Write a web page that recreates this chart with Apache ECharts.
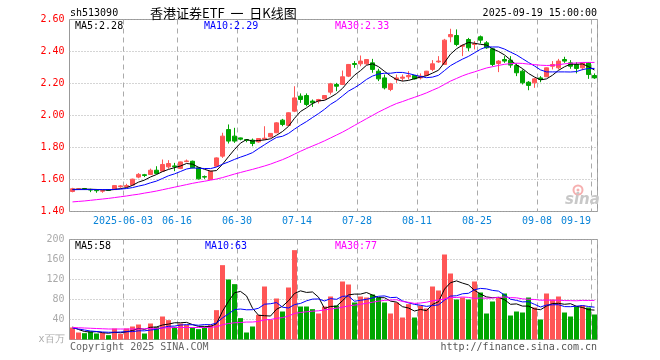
<!DOCTYPE html>
<html><head><meta charset="utf-8">
<script src="https://cdn.jsdelivr.net/npm/echarts/dist/echarts.min.js"></script>
<style>html,body{margin:0;padding:0;background:#fff}#c{width:660px;height:360px}</style>
</head><body><div id="c"></div>
<script>
const dates = [
'2025-05-20','2025-05-21','2025-05-22','2025-05-23','2025-05-26','2025-05-27','2025-05-28','2025-05-29','2025-05-30',
'2025-06-03','2025-06-04','2025-06-05','2025-06-06','2025-06-09','2025-06-10','2025-06-11','2025-06-12','2025-06-13',
'2025-06-16','2025-06-17','2025-06-18','2025-06-19','2025-06-20','2025-06-23','2025-06-24','2025-06-25','2025-06-26','2025-06-27',
'2025-06-30','2025-07-01','2025-07-02','2025-07-03','2025-07-04','2025-07-07','2025-07-08','2025-07-09','2025-07-10','2025-07-11',
'2025-07-14','2025-07-15','2025-07-16','2025-07-17','2025-07-18','2025-07-21','2025-07-22','2025-07-23','2025-07-24','2025-07-25',
'2025-07-28','2025-07-29','2025-07-30','2025-07-31','2025-08-01','2025-08-04','2025-08-05','2025-08-06','2025-08-07','2025-08-08',
'2025-08-11','2025-08-12','2025-08-13','2025-08-14','2025-08-15','2025-08-18','2025-08-19','2025-08-20','2025-08-21','2025-08-22',
'2025-08-25','2025-08-26','2025-08-27','2025-08-28','2025-08-29','2025-09-01','2025-09-02','2025-09-03','2025-09-04','2025-09-05',
'2025-09-08','2025-09-09','2025-09-10','2025-09-11','2025-09-12','2025-09-15','2025-09-16','2025-09-17','2025-09-18','2025-09-19'];

const openP = [1.525,1.538,1.543,1.538,1.533,1.527,1.537,1.537,1.555,1.555, 1.565,1.615,1.630,1.631,1.658,1.652,1.679,1.685,1.669,1.712, 1.714,1.673,1.618,1.600,1.683,1.746,1.912,1.871,1.860,1.850, 1.846,1.835,1.852,1.867,1.892,1.971,1.938,2.027,2.121,2.125, 2.090,2.090,2.104,2.146,2.194,2.194,2.246,2.325,2.323,2.323, 2.329,2.277,2.235,2.163,2.225,2.233,2.242,2.250,2.235,2.250, 2.288,2.335,2.319,2.492,2.500,2.433,2.475,2.444,2.492,2.454, 2.417,2.325,2.350,2.346,2.313,2.277,2.208,2.204,2.235,2.242, 2.308,2.298,2.350,2.329,2.319,2.298,2.329,2.250];
const closeP = [1.542,1.542,1.541,1.534,1.530,1.530,1.532,1.562,1.560,1.562, 1.602,1.632,1.625,1.658,1.638,1.694,1.700,1.680,1.710,1.716, 1.673,1.604,1.615,1.652,1.735,1.871,1.840,1.840,1.852,1.845, 1.825,1.856,1.858,1.888,1.954,1.944,2.017,2.110,2.100,2.069, 2.079,2.100,2.125,2.198,2.183,2.242,2.319,2.319,2.340,2.350, 2.288,2.229,2.173,2.198,2.235,2.240,2.250,2.229,2.246,2.277, 2.323,2.340,2.471,2.506,2.444,2.438,2.423,2.448,2.471,2.423, 2.319,2.340,2.340,2.315,2.267,2.204,2.188,2.229,2.225,2.298, 2.319,2.340,2.340,2.308,2.294,2.329,2.256,2.235];
const lowP = [1.520,1.535,1.536,1.521,1.517,1.517,1.530,1.535,1.548,1.552, 1.562,1.608,1.615,1.628,1.633,1.650,1.667,1.652,1.665,1.708, 1.670,1.600,1.604,1.598,1.680,1.735,1.825,1.829,1.845,1.833, 1.808,1.830,1.850,1.862,1.890,1.933,1.935,2.021,2.079,2.058, 2.054,2.075,2.100,2.131,2.152,2.190,2.240,2.298,2.308,2.318, 2.267,2.215,2.163,2.152,2.204,2.215,2.225,2.225,2.225,2.248, 2.277,2.329,2.319,2.458,2.433,2.371,2.402,2.413,2.450,2.417, 2.308,2.271,2.329,2.298,2.246,2.194,2.158,2.173,2.208,2.240, 2.288,2.288,2.329,2.292,2.263,2.283,2.229,2.229];
const highP = [1.548,1.545,1.547,1.542,1.535,1.535,1.540,1.563,1.565,1.573, 1.605,1.640,1.635,1.668,1.683,1.725,1.721,1.704,1.712,1.725, 1.718,1.675,1.625,1.655,1.738,1.892,1.944,1.923,1.862,1.850, 1.856,1.858,1.933,1.890,1.958,1.979,2.020,2.183,2.138,2.138, 2.100,2.104,2.128,2.204,2.204,2.281,2.322,2.340,2.375,2.353, 2.354,2.292,2.256,2.204,2.256,2.256,2.277,2.252,2.263,2.279, 2.346,2.371,2.479,2.542,2.538,2.444,2.485,2.465,2.500,2.465, 2.423,2.346,2.371,2.371,2.325,2.288,2.215,2.235,2.246,2.300, 2.340,2.354,2.367,2.346,2.333,2.329,2.333,2.263];
const volume = [24,14,12.7,16,12,13.3,8.7,22,11.3,22, 26,30,12,32,25.3,46,38.7,25.3,32,29.3, 24,20.7,25.3,29.3,58.7,148.7,120,110.7,42.7,14, 26,49.3,106,39.3,82,56,104,178.7,66,66, 60.7,52,66,86,68,116,110,74,86,84, 90,84,74,52,74,44,70.7,44,68,62, 106,98,170,132,80,84,80,116,94,52, 76,84,92,48,56,54,84,64,40,92, 80,86,54,46,66,68,64,50];

// moving-average values at the start of the window (prior history not shown)
const ma5Head = [1.538,1.539,1.540,1.539];
const ma10Head = [1.536,1.537,1.537,1.537,1.537,1.537,1.537,1.538,1.540];
const ma30Head = [1.460,1.463,1.466,1.470,1.474,1.478,1.482,1.487,1.492,1.497,1.503,1.508,1.515,1.521,1.528,1.536,1.544,1.552,1.560,1.568,1.576,1.583,1.589,1.596,1.603,1.612,1.623,1.634,1.644];
const vma5Head = [25,20,16,15];
const vma10Head = [23,21,19,17,16,15,14.5,14.5,15];
const vma30Head = [24,23.5,23,22.5,22,21.5,21,21,21,21,21,21,21.5,22,22.5,23,23.5,24,24,24,24,24,24,24.5,25.5,29.5,32,33.5,34];

const labelIdx = [9,18,28,38,48,58,68,78,87];
const priceTicks = {min:1.4, max:2.6, step:0.2};
const volTicks = {min:0, max:200, step:40};
const titleText = '香港证券ETF  一  日K线图';
const codeText = 'sh513090';
const timeText = '2025-09-19 15:00:00';
const priceLegend = ['MA5:2.28','MA10:2.29','MA30:2.33'];
const volLegend = ['MA5:58','MA10:63','MA30:77'];

const RED = '#ff5656', GREEN = '#00a600';
const MONO = '"DejaVu Sans Mono", monospace';

function movingAvg(vals, n, head) {
  return vals.map((v, i) => {
    if (i < n - 1) return head[i];
    let s = 0; for (let k = i - n + 1; k <= i; k++) s += vals[k];
    return +(s / n).toFixed(4);
  });
}

const kData = openP.map((o, i) => [o, closeP[i], lowP[i], highP[i]]);
const volData = volume.map((v, i) => ({value: v, itemStyle: {color: closeP[i] >= openP[i] ? RED : GREEN, opacity: 1}}));

const chart = echarts.init(document.getElementById('c'), null, {renderer: 'canvas'});

const splitX = {show: true, interval: (i) => labelIdx.indexOf(i) >= 0, lineStyle: {color: '#aaa', type: [5, 4], width: 1}};
const splitY = {show: true, lineStyle: {color: '#aaa', type: [1, 2], width: 1}};

function txt(x, y, text, color, align, font) {
  return {type: 'text', silent: true, z: 100, style: {x: x, y: y, text: text, fill: color, font: font || ('10px ' + MONO),
    textAlign: align || 'left', align: align || 'left', textVerticalAlign: 'middle', verticalAlign: 'middle'}};
}

chart.setOption({
  animation: false,
  backgroundColor: '#fff',
  grid: [
    {left: 69.5, top: 19.5, width: 528, height: 192, show: true, borderColor: '#999', borderWidth: 1, backgroundColor: 'transparent'},
    {left: 69.5, top: 239.5, width: 528, height: 100, show: true, borderColor: '#999', borderWidth: 1, backgroundColor: 'transparent'}
  ],
  xAxis: [
    {type: 'category', gridIndex: 0, data: dates, boundaryGap: true,
      axisLine: {show: false}, axisTick: {show: false}, splitLine: splitX,
      axisLabel: {show: true, interval: (i) => labelIdx.indexOf(i) >= 0, margin: 5,
        color: '#0a84d8', fontFamily: MONO, fontSize: 10,
        formatter: (v, i) => {
          const s = (i === labelIdx[0]) ? v : v.slice(5);
          return i === labelIdx[labelIdx.length - 1] ? '{e|' + s + '}' : '{n|' + s + '}';
        },
        rich: {
          n: {color: '#0a84d8', fontFamily: MONO, fontSize: 10, padding: [0, 7, 0, 0]},
          e: {color: '#0a84d8', fontFamily: MONO, fontSize: 10, padding: [0, 37, 0, 0]}
        }
      }},
    {type: 'category', gridIndex: 1, data: dates, boundaryGap: true,
      axisLine: {show: false}, axisTick: {show: false}, axisLabel: {show: false}, splitLine: splitX}
  ],
  yAxis: [
    {type: 'value', gridIndex: 0, min: priceTicks.min, max: priceTicks.max, interval: priceTicks.step, scale: true,
      axisLine: {show: false}, axisTick: {show: false}, splitLine: splitY,
      axisLabel: {color: '#f00', fontFamily: MONO, fontSize: 10, margin: 5, formatter: (v) => v.toFixed(2)}},
    {type: 'value', gridIndex: 1, min: volTicks.min, max: volTicks.max, interval: volTicks.step,
      axisLine: {show: false}, axisTick: {show: false}, splitLine: splitY,
      axisLabel: {color: '#aaa', fontFamily: MONO, fontSize: 10, margin: 5,
        formatter: (v) => v === 0 ? 'x百万' : String(v)}}
  ],
  series: [
    {type: 'candlestick', xAxisIndex: 0, yAxisIndex: 0, data: kData, barWidth: 5, z: 2,
      itemStyle: {color: RED, color0: GREEN, borderColor: RED, borderColor0: GREEN, borderWidth: 1}},
    {type: 'line', xAxisIndex: 0, yAxisIndex: 0, data: movingAvg(closeP, 5, ma5Head), showSymbol: false, z: 3,
      lineStyle: {color: '#000', width: 1}},
    {type: 'line', xAxisIndex: 0, yAxisIndex: 0, data: movingAvg(closeP, 10, ma10Head), showSymbol: false, z: 3,
      lineStyle: {color: '#0000ff', width: 1}},
    {type: 'line', xAxisIndex: 0, yAxisIndex: 0, data: movingAvg(closeP, 30, ma30Head), showSymbol: false, z: 3,
      lineStyle: {color: '#ff00ff', width: 1}},
    {type: 'bar', xAxisIndex: 1, yAxisIndex: 1, data: volData, barWidth: 5, z: 2, emphasis: {disabled: true},
      itemStyle: {opacity: 1, borderWidth: 0}},
    {type: 'line', xAxisIndex: 1, yAxisIndex: 1, data: movingAvg(volume, 5, vma5Head), showSymbol: false, z: 3,
      lineStyle: {color: '#000', width: 1}},
    {type: 'line', xAxisIndex: 1, yAxisIndex: 1, data: movingAvg(volume, 10, vma10Head), showSymbol: false, z: 3,
      lineStyle: {color: '#0000ff', width: 1}},
    {type: 'line', xAxisIndex: 1, yAxisIndex: 1, data: movingAvg(volume, 30, vma30Head), showSymbol: false, z: 3,
      lineStyle: {color: '#ff00ff', width: 1}}
  ],
  graphic: [
    txt(70, 13, codeText, '#000'),
    txt(150, 13, titleText, '#000', 'left', '13px "Noto Sans CJK SC"'),
    txt(597, 13, timeText, '#000', 'right'),
    txt(75, 26, priceLegend[0], '#000'),
    txt(204, 26, priceLegend[1], '#0000ff'),
    txt(335, 26, priceLegend[2], '#ff00ff'),
    txt(75, 246, volLegend[0], '#000'),
    txt(205, 246, volLegend[1], '#0000ff'),
    txt(335, 246, volLegend[2], '#ff00ff'),
    txt(70, 347, 'Copyright 2025 SINA.COM', '#666'),
    txt(597, 347, 'http://finance.sina.com.cn', '#555', 'right'),
    {type: 'circle', silent: true, z: 1, shape: {cx: 578, cy: 190, r: 4.5}, style: {fill: 'none', stroke: '#f6b0b0', lineWidth: 2}},
    {type: 'circle', silent: true, z: 1, shape: {cx: 578, cy: 190, r: 1.5}, style: {fill: '#f6b0b0'}},
    txt(565, 200, 'sina', '#c8c8c8', 'left', 'italic bold 15px "DejaVu Sans"')
  ]
});
</script>
</body></html>
